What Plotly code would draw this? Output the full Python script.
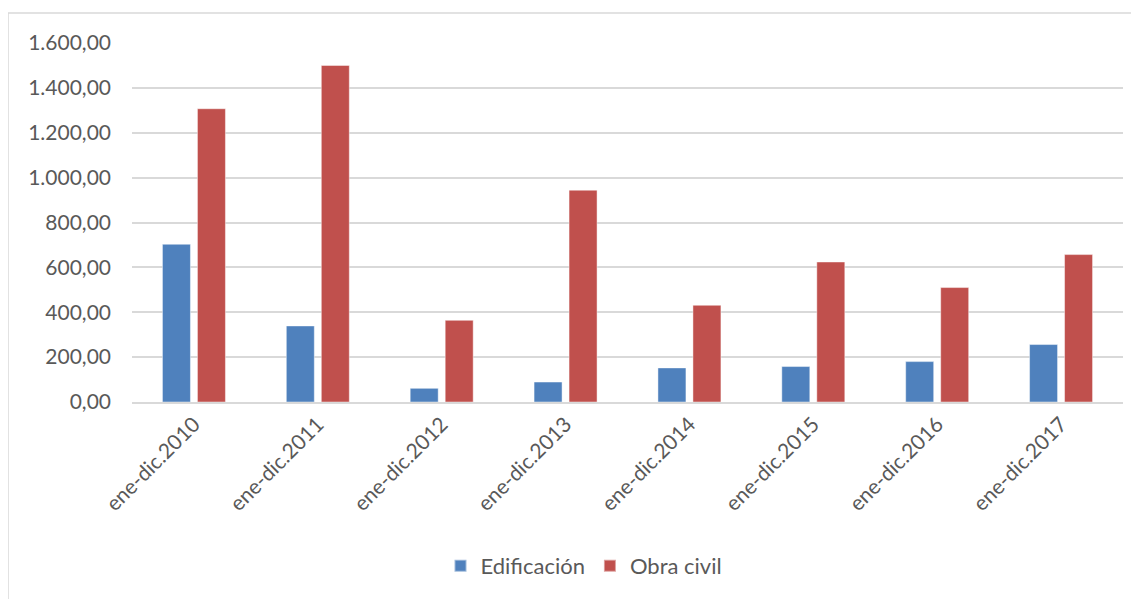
import plotly.graph_objects as go

categories = ["ene-dic.2010", "ene-dic.2011", "ene-dic.2012", "ene-dic.2013",
              "ene-dic.2014", "ene-dic.2015", "ene-dic.2016", "ene-dic.2017"]
edificacion = [703, 339, 61, 89, 152, 158, 180, 256]
obra_civil = [1307, 1500, 364, 944, 431, 624, 510, 657]
tick_vals = [0, 200, 400, 600, 800, 1000, 1200, 1400, 1600]
tick_text = ["0,00", "200,00", "400,00", "600,00", "800,00",
             "1.000,00", "1.200,00", "1.400,00", "1.600,00"]

FONT = "Lato"
TXT = "#595959"
GRID = "#D9D9D9"

fig = go.Figure()
fig.add_trace(go.Bar(name="Edificación", x=categories, y=edificacion,
                     marker=dict(color="#4F81BD", line=dict(color="rgba(255,255,255,0.45)", width=1))))
fig.add_trace(go.Bar(name="Obra civil", x=categories, y=obra_civil,
                     marker=dict(color="#C0504D", line=dict(color="rgba(255,255,255,0.45)", width=1))))

OFF = 8  # page body margin
W, H = 1131, 591
# target page pixel positions of plot area
PX0, PX1, PY0, PY1 = 132, 1123, 43, 402
L = PX0 - OFF
T = PY0 - OFF
R = W - (PX1 - OFF)
B = H - (PY1 - OFF)
pw, ph = PX1 - PX0, PY1 - PY0

def px(x):
    return (x - PX0) / pw

def py(y):
    return (PY1 - y) / ph

fig.update_layout(
    width=W, height=H,
    margin=dict(l=L, r=R, t=T, b=B, autoexpand=False),
    paper_bgcolor="white", plot_bgcolor="white",
    barmode="group", bargap=0.435, bargroupgap=0.2,
    font=dict(family=FONT, size=21, color=TXT),
    showlegend=True,
    legend=dict(orientation="h", xref="container", yref="container",
                x=(584 - OFF) / W, xanchor="center", y=1 - (566 - OFF) / H, yanchor="middle",
                font=dict(family=FONT, size=22, color=TXT),
                itemsizing="constant", traceorder="normal"),
    xaxis=dict(tickangle=-45, showgrid=False, showline=True, linecolor=GRID,
               linewidth=1.5, ticks="", tickfont=dict(family=FONT, size=21, color=TXT)),
    yaxis=dict(range=[0, 1600], tickvals=tick_vals, ticktext=tick_text,
               showgrid=True, gridcolor=GRID, gridwidth=1.5, zeroline=False,
               showline=False, ticks="", ticklabelstandoff=20,
               tickfont=dict(family=FONT, size=21, color=TXT)),
    shapes=[dict(type="rect", xref="paper", yref="paper",
                 x0=px(8), x1=px(1170), y0=py(640), y1=py(13),
                 line=dict(color=GRID, width=1.5), fillcolor="rgba(0,0,0,0)", layer="below")],
)

fig.write_html("out.html")
